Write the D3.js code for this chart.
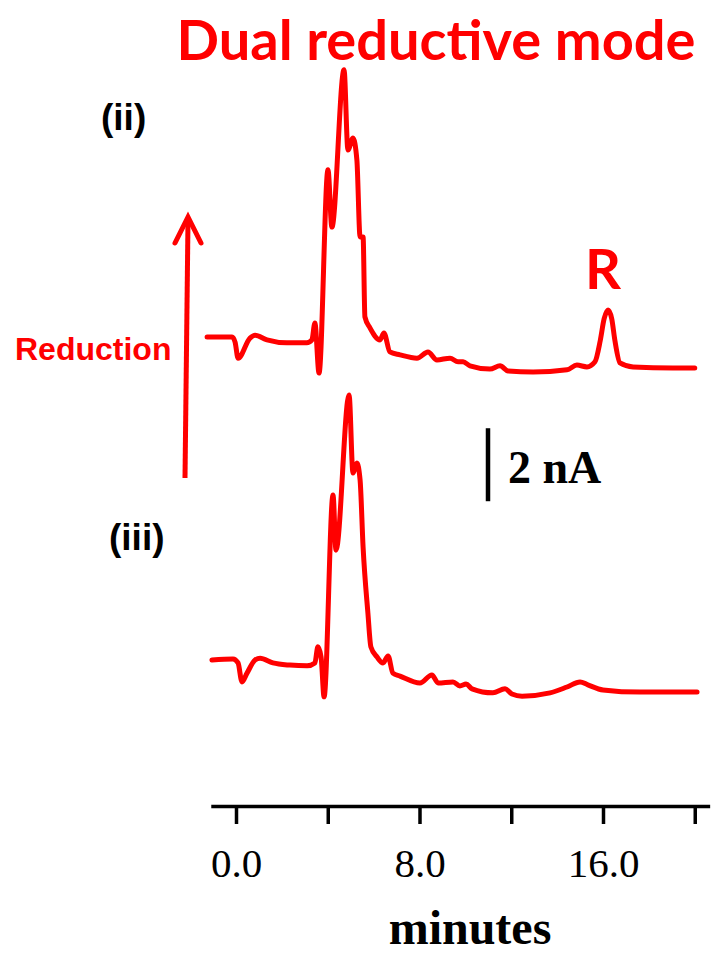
<!DOCTYPE html>
<html>
<head>
<meta charset="utf-8">
<script src="https://cdn.jsdelivr.net/npm/d3@7"></script>
<style>
	body { margin: 0; background: #fff; }
	svg { display: block; }
</style>
</head>
<body>
<svg id="chart" width="719" height="955"></svg>
<script>
// retention time (minutes) and current (nA, relative to each trace's own baseline)
var timeII = [-1.26, -0.17, -0.04, 0.09, 0.61, 0.83, 1.35, 2.22, 3.09, 3.31, 3.44, 3.62, 4.01, 4.18, 4.71, 4.88, 5.10, 5.27, 5.41, 5.54, 5.62, 5.84, 6.28, 6.45, 6.71, 7.15, 7.89, 8.37, 8.76, 9.33, 9.68, 9.90, 10.20, 11.07, 11.51, 11.86, 12.95, 14.43, 14.86, 15.30, 15.65, 15.88, 16.05, 16.22, 16.38, 16.52, 16.74, 17.31, 19.05, 20.00];
var currentII = [0, 0, -0.14, -0.58, -0.03, 0.05, -0.08, -0.16, -0.16, -0.08, 0.38, -0.99, 4.58, 3.01, 7.32, 5.12, 5.45, 4.85, 2.74, 2.74, 0.55, 0.25, -0.08, 0.11, -0.41, -0.49, -0.58, -0.41, -0.63, -0.58, -0.68, -0.68, -0.79, -0.88, -0.79, -0.93, -0.96, -0.90, -0.77, -0.82, -0.68, -0.10, 0.50, 0.74, 0.50, -0.10, -0.71, -0.82, -0.85, -0.85];

var timeIII = [-1.05, -0.13, 0.09, 0.26, 0.48, 0.83, 1.05, 1.61, 2.35, 3.10, 3.44, 3.57, 3.71, 3.84, 4.23, 4.36, 4.93, 5.10, 5.27, 5.41, 5.54, 5.75, 5.88, 6.15, 6.41, 6.63, 6.84, 7.15, 8.02, 8.54, 8.81, 9.46, 9.76, 10.03, 10.29, 11.20, 11.73, 12.03, 12.47, 13.69, 14.43, 15.00, 15.34, 16.00, 17.61, 20.10];
var currentIII = [0, 0.03, -0.08, -0.60, -0.36, 0, 0.05, -0.08, -0.14, -0.16, -0.08, 0.36, 0.08, -1.01, 4.52, 3.01, 7.26, 5.12, 5.40, 4.93, 3.10, 1.29, 0.36, 0.08, -0.08, 0.11, -0.36, -0.44, -0.63, -0.41, -0.63, -0.60, -0.71, -0.66, -0.79, -0.90, -0.79, -0.93, -0.99, -0.90, -0.74, -0.60, -0.68, -0.82, -0.88, -0.88];

// vertical offset of each trace in the stack (nA)
var traceOffsets = [12.85, 4.0];
var traceLabels = ["(ii)", "(iii)"];

var tickValues = [0, 4, 8, 12, 16, 20];
var tickLabels = ["0.0", "", "8.0", "", "16.0", ""];

var svg = d3.select("#chart");
var red = "#ff0000";

var x = d3.scaleLinear().domain([0, 16]).range([236, 603]);
var y = d3.scaleLinear().domain([0, 2]).range([806, 733]);

var traces = [
	timeII.map(function(t, i) { return [t, currentII[i] + traceOffsets[0]]; }),
	timeIII.map(function(t, i) { return [t, currentIII[i] + traceOffsets[1]]; })
];

var line = d3.line()
	.x(function(d) { return x(d[0]); })
	.y(function(d) { return y(d[1]); })
	.curve(d3.curveMonotoneX);

svg.selectAll("path.trace").data(traces).enter().append("path")
	.classed("trace", 1)
	.attr("d", line)
	.attr("fill", "none")
	.attr("stroke", red)
	.attr("stroke-width", 5)
	.attr("stroke-linejoin", "round")
	.attr("stroke-linecap", "round");

// time axis
var axisX = d3.scaleLinear().domain([-1.1, 20.65]).range([x(-1.1), x(20.65)]);
var axis = svg.append("g")
	.attr("transform", "translate(0,806)")
	.call(d3.axisBottom(axisX)
		.tickValues(tickValues)
		.tickSize(18)
		.tickSizeOuter(0)
		.tickFormat(function(d, i) { return tickLabels[i]; }));

axis.select(".domain").attr("stroke", "#000").attr("stroke-width", 3.5);
axis.selectAll(".tick line").attr("stroke", "#000").attr("stroke-width", 3.5);
axis.selectAll(".tick text")
	.attr("y", 71)
	.attr("dy", 0)
	.attr("fill", "#000")
	.attr("font-family", "'Liberation Serif', 'Times New Roman', serif")
	.attr("font-size", "41px");

svg.append("text")
	.text("minutes")
	.attr("x", 470)
	.attr("y", 944)
	.attr("text-anchor", "middle")
	.attr("font-family", "'Liberation Serif', 'Times New Roman', serif")
	.attr("font-weight", "bold")
	.attr("font-size", "48px");

// title
svg.append("text")
	.text("Dual reductive mode")
	.attr("x", 436)
	.attr("y", 60)
	.attr("text-anchor", "middle")
	.attr("fill", red)
	.attr("font-family", "Lato, sans-serif")
	.attr("font-weight", "bold")
	.attr("font-size", "56px");

// trace labels
svg.selectAll("text.traceLabel").data(traceLabels).enter().append("text")
	.classed("traceLabel", 1)
	.text(function(d) { return d; })
	.attr("x", function(d, i) { return i == 0 ? 101 : 109; })
	.attr("y", function(d, i) { return i == 0 ? 130 : 550; })
	.attr("font-family", "'Liberation Sans', Arial, sans-serif")
	.attr("font-weight", "bold")
	.attr("font-size", "37px");

svg.append("text")
	.text("R")
	.attr("x", x(16.0))
	.attr("y", 289)
	.attr("text-anchor", "middle")
	.attr("fill", red)
	.attr("font-family", "Lato, sans-serif")
	.attr("font-weight", "bold")
	.attr("font-size", "56px");

// reduction arrow
svg.append("line")
	.attr("x1", 185).attr("y1", 478)
	.attr("x2", 188).attr("y2", 220)
	.attr("stroke", red)
	.attr("stroke-width", 5);

svg.append("path")
	.attr("d", "M175,243L188,217L201,243")
	.attr("fill", "none")
	.attr("stroke", red)
	.attr("stroke-width", 5)
	.attr("stroke-linecap", "round")
	.attr("stroke-linejoin", "miter");

svg.append("text")
	.text("Reduction")
	.attr("x", 15)
	.attr("y", 360)
	.attr("fill", red)
	.attr("font-family", "'Liberation Sans', Arial, sans-serif")
	.attr("font-weight", "bold")
	.attr("font-size", "32px");

// 2 nA scale bar
svg.append("line")
	.attr("x1", 488).attr("x2", 488)
	.attr("y1", y(8.35)).attr("y2", y(10.35))
	.attr("stroke", "#000")
	.attr("stroke-width", 4.5);

svg.append("text")
	.text("2 nA")
	.attr("x", 508)
	.attr("y", 483)
	.attr("font-family", "'Liberation Serif', 'Times New Roman', serif")
	.attr("font-weight", "bold")
	.attr("font-size", "46px");
</script>
</body>
</html>
